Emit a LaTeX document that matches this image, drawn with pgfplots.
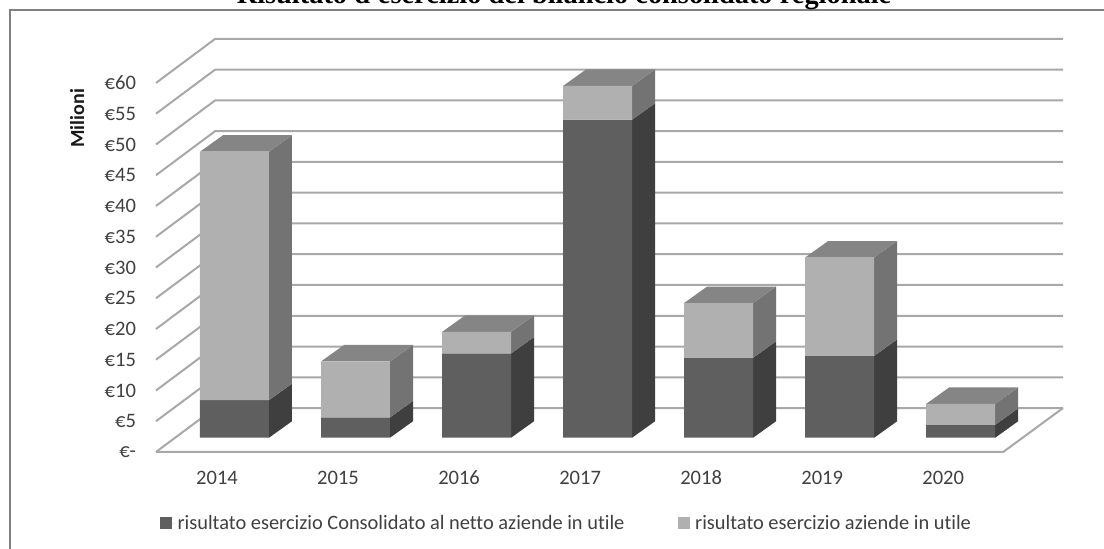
\documentclass[border=0pt]{standalone}
\usepackage{fontspec}
\setmainfont[Ligatures=NoCommon]{Carlito}
\newfontfamily\titlefont{Liberation Serif}
\usepackage{pgfplots}
\pgfplotsset{compat=1.18}
\definecolor{darkfront}{HTML}{5F5F5F}
\definecolor{lightfront}{HTML}{B0B0B0}
\definecolor{darkside}{HTML}{3F3F3F}
\definecolor{lightside}{HTML}{737373}
\definecolor{topface}{HTML}{858585}
\definecolor{gridc}{HTML}{A8A8A8}
\definecolor{textc}{HTML}{404040}
% depth of a bar, half width, shift of the bar from the label (axis units)
\newcommand\ddx{0.19}
\newcommand\ddy{2.68}
\newcommand\bw{0.285}
\newcommand\bs{0.1446}
\newcommand\barfaces[3]{%
  \pgfmathsetmacro\xl{#1+\bs-\bw}%
  \pgfmathsetmacro\xr{#1+\bs+\bw}%
  \pgfmathsetmacro\xrb{\xr+\ddx}%
  \pgfmathsetmacro\xlb{\xl+\ddx}%
  \pgfmathsetmacro\ya{\ddy}%
  \pgfmathsetmacro\yb{#2+\ddy}%
  \pgfmathsetmacro\yc{#3+\ddy}%
  \addplot[fill=darkside,draw=none,forget plot] coordinates {(\xr,0) (\xrb,\ya) (\xrb,\yb) (\xr,#2) (\xr,0)};
  \addplot[fill=lightside,draw=none,forget plot] coordinates {(\xr,#2) (\xrb,\yb) (\xrb,\yc) (\xr,#3) (\xr,#2)};
  \addplot[fill=topface,draw=none,forget plot] coordinates {(\xl,#3) (\xlb,\yc) (\xrb,\yc) (\xr,#3) (\xl,#3)};
}
\newcommand\gridv[1]{%
  \pgfmathsetmacro\yf{#1-2.32}%
  \pgfmathsetmacro\yg{#1-2.32+7.15}%
  \addplot[gridc,line width=1.5pt,forget plot] coordinates {(-0.504,\yf) (-0.0165,\yg) (6.99,\yg)};
}
\begin{document}
\begin{tikzpicture}[x=0.75pt,y=0.75pt]
\path[use as bounding box] (0,0) rectangle (1104,549);
\clip (0,0) rectangle (1104,549);
\draw[color=black!50,line width=1.5pt] (9.5,-5) -- (9.5,539) -- (1110,539);
\node[font=\titlefont\bfseries\fontsize{21.3pt}{24pt}\selectfont,anchor=base,inner sep=0pt] at (564,545) {Risultato d'esercizio del bilancio consolidato regionale};
\begin{axis}[
  at={(156*0.75pt,97*0.75pt)},anchor=south west,
  scale only axis,width=680.25pt,height=310.1pt,
  xmin=-0.504,xmax=6.99,ymin=-2.32,ymax=64.9,
  clip=false,
  axis line style={draw=none},
  major tick length=0pt,
  xtick={0,1,2,3,4,5,6},
  xticklabels={2014,2015,2016,2017,2018,2019,2020},
  ytick={-2.32,2.68,7.68,12.68,17.68,22.68,27.68,32.68,37.68,42.68,47.68,52.68,57.68},
  yticklabels={€-,€5,€10,€15,€20,€25,€30,€35,€40,€45,€50,€55,€60},
  tick label style={font=\fontsize{15.4pt}{18pt}\selectfont,text=textc},
  yticklabel style={xshift=-11.5pt},
  xticklabel style={yshift=-10.5pt},
  ylabel={Milioni},
  ylabel style={at={(axis description cs:-0.087,0.807)},anchor=center,font=\bfseries\fontsize{15pt}{17pt}\selectfont,text=black!90},
  legend columns=2,
  legend style={at={(axis cs:-0.471,-13.87)},anchor=west,draw=none,fill=none,inner sep=0pt,
    font=\fontsize{15.3pt}{18pt}\selectfont,text=textc,
    /tikz/every even column/.append style={column sep=38pt}},
  legend image code/.code={\fill[#1] (0pt,-4.5pt) rectangle (9pt,4.5pt);\path (0pt,0pt) -- (11pt,0pt);},
  /pgf/number format/assume math mode=true,
]
\gridv{0}\gridv{5}\gridv{10}\gridv{15}\gridv{20}\gridv{25}\gridv{30}
\gridv{35}\gridv{40}\gridv{45}\gridv{50}\gridv{55}\gridv{60}
% floor: front edge and right edge
\addplot[gridc,line width=1.5pt,forget plot] coordinates {(-0.504,-2.32) (6.496,-2.32) (6.99,4.83)};
\barfaces{0}{6.1}{46.5}
\barfaces{1}{3.3}{12.4}
\barfaces{2}{13.7}{17.2}
\barfaces{3}{51.7}{57.2}
\barfaces{4}{13.0}{21.9}
\barfaces{5}{13.3}{29.3}
\barfaces{6}{2.1}{5.5}
\addplot[ybar,stack plots=y,bar width=0.57,bar shift=13.1pt,fill=darkfront,draw=none] coordinates {(0,6.1) (1,3.3) (2,13.7) (3,51.7) (4,13.0) (5,13.3) (6,2.1)};
\addplot[ybar,stack plots=y,bar width=0.57,bar shift=13.1pt,fill=lightfront,draw=none] coordinates {(0,40.4) (1,9.1) (2,3.5) (3,5.5) (4,8.9) (5,16.0) (6,3.4)};
\legend{risultato esercizio Consolidato al netto aziende in utile,risultato esercizio aziende in utile}
\end{axis}
\end{tikzpicture}
\end{document}
